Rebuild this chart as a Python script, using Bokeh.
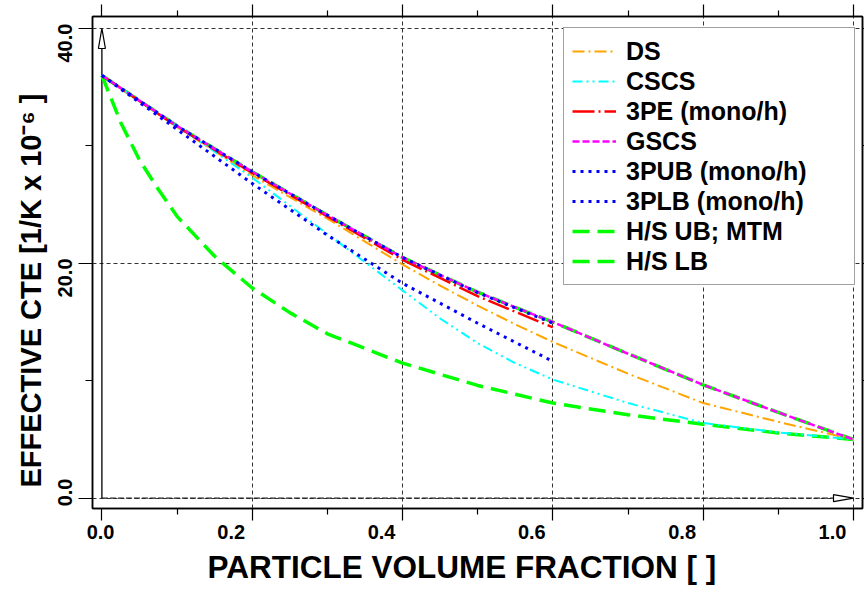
from bokeh.plotting import figure
from bokeh.models import (Range1d, FixedTicker, LinearAxis, Legend, LegendItem,
                          CustomJSTickFormatter, Grid, Title)
from bokeh.embed import file_html
from bokeh.resources import INLINE

# ---------------------------------------------------------------- data
# particle volume fraction grids
phi = [0.0, 0.1, 0.2, 0.3, 0.4, 0.45, 0.5, 0.55, 0.6, 0.7, 0.8, 0.9, 1.0]
phi_3p = [0.0, 0.1, 0.2, 0.3, 0.4, 0.5, 0.6]
phi_lb = [0.0, 0.025, 0.05, 0.075, 0.1, 0.15, 0.2, 0.25, 0.3, 0.4, 0.5,
          0.6, 0.7, 0.8, 0.9, 1.0]

# effective CTE [1/K x 10^-6]
cte_ds = [36.0, 31.6, 27.5, 23.8, 19.9, 18.1, 16.4, 14.8, 13.3, 10.6, 8.1, 6.5, 5.0]
cte_cscs = [36.0, 31.7, 27.3, 22.5, 17.7, 15.3, 13.2, 11.5, 10.1, 8.1, 6.4, 5.6, 5.0]
cte_3pe = [36.0, 31.65, 27.7, 24.0, 20.3, 17.2, 14.55]
cte_gscs = [36.0, 31.7, 27.8, 24.1, 20.5, 19.0, 17.55, 16.25, 15.0, 12.3, 9.65, 7.3, 5.0]
cte_3pub = [36.0, 31.7, 27.8, 24.1, 20.5, 17.5, 14.9]
cte_3plb = [36.0, 31.4, 26.8, 22.4, 18.3, 14.9, 11.65]
cte_hs_ub = [36.0, 31.7, 27.8, 24.1, 20.5, 19.0, 17.55, 16.25, 15.0, 12.3, 9.65, 7.3, 5.0]
cte_hs_lb = [36.0, 32.0, 28.8, 26.3, 24.0, 20.6, 17.9, 15.8, 14.0, 11.5,
             9.6, 8.1, 7.1, 6.3, 5.55, 5.0]

series_names = ["DS", "CSCS", "3PE (mono/h)", "GSCS", "3PUB (mono/h)",
                "3PLB (mono/h)", "H/S UB; MTM", "H/S LB"]

# axis ticks
x_ticks = [0.0, 0.2, 0.4, 0.6, 0.8, 1.0]
x_minor = [0.1, 0.3, 0.5, 0.7, 0.9]
x_tick_labels = ["0.0", "0.2", "0.4", "0.6", "0.8", "1.0"]
y_ticks = [0.0, 20.0, 40.0]
y_minor = [10.0, 30.0]
y_tick_labels = ["0.0", "20.0", "40.0"]

x_title = "PARTICLE VOLUME FRACTION [ ]"
y_title = "EFFECTIVE CTE [1/K x 10\u207b\u2076 ]"

# ---------------------------------------------------------------- layout
W, H = 864, 592
LEFT, RIGHT, TOP, BOTTOM = 92, 2, 16, 84
FW, FH = W - LEFT - RIGHT, H - TOP - BOTTOM
X0, X1 = -0.0125, 1.012
Y0, Y1 = -0.88, 41.02
FONT = "Liberation Sans"

DX = (X1 - X0) / FW   # data units per pixel
DY = (Y1 - Y0) / FH

# tick numbers sit a little off their ticks: 0.0 nearly centred,
# the others shifted towards the origin
X_LAB_SHIFT = 21.0    # px to the left
X_LAB_ZERO = 1.3
Y_LAB_SHIFT = 14.6    # px downwards
Y_LAB_ZERO = -5.7

p = figure(width=W, height=H, x_range=Range1d(X0, X1), y_range=Range1d(Y0, Y1),
           output_backend="svg", toolbar_location=None,
           min_border_left=LEFT, min_border_right=RIGHT,
           min_border_top=TOP, min_border_bottom=BOTTOM,
           x_axis_type=None, y_axis_type=None)
p.background_fill_color = "white"
p.border_fill_color = "white"
p.outline_line_color = "black"
p.outline_line_width = 1.5

# shifted ranges that carry only the tick numbers
p.extra_x_ranges = {"xlab": Range1d(X0 + X_LAB_SHIFT * DX, X1 + X_LAB_SHIFT * DX)}
p.extra_y_ranges = {"ylab": Range1d(Y0 + Y_LAB_SHIFT * DY, Y1 + Y_LAB_SHIFT * DY)}

blank = CustomJSTickFormatter(code="return ''")


def tick_axis(ticks, minor, out_major, out_minor):
    ax = LinearAxis(ticker=FixedTicker(ticks=ticks, minor_ticks=minor),
                    formatter=blank)
    ax.major_tick_out = out_major
    ax.major_tick_in = 0
    ax.minor_tick_out = out_minor
    ax.minor_tick_in = 0
    ax.major_tick_line_width = 1.2
    ax.minor_tick_line_width = 1.2
    ax.axis_line_width = 1.5
    ax.major_label_text_font_size = "0px"
    ax.major_label_standoff = 0
    ax.axis_label_standoff = 0
    return ax


def label_axis(ticks, labels, standoff, **kw):
    ax = LinearAxis(ticker=FixedTicker(ticks=ticks, minor_ticks=[]),
                    formatter=CustomJSTickFormatter(args=dict(labels=labels),
                                                    code="return labels[index]"),
                    **kw)
    ax.axis_line_color = None
    ax.major_tick_line_color = None
    ax.minor_tick_line_color = None
    ax.major_tick_out = 0
    ax.major_tick_in = 0
    ax.minor_tick_out = 0
    ax.minor_tick_in = 0
    ax.major_label_standoff = standoff
    ax.major_label_text_font = FONT
    ax.major_label_text_font_style = "bold"
    ax.major_label_text_font_size = "20px"
    ax.major_label_text_color = "black"
    return ax


# tick marks on all four sides
p.add_layout(tick_axis(x_ticks, x_minor, 12, 6), "below")
p.add_layout(tick_axis(x_ticks, x_minor, 12, 6), "above")
p.add_layout(tick_axis(y_ticks, y_minor, 14, 7), "left")
p.add_layout(tick_axis(y_ticks, y_minor, 2, 2), "right")

# tick numbers
x_lab_ticks = [x_ticks[0] + (X_LAB_SHIFT - X_LAB_ZERO) * DX] + x_ticks[1:]
p.add_layout(label_axis(x_lab_ticks, x_tick_labels, 4, x_range_name="xlab"), "below")
y_lab_ticks = [y_ticks[0] + (Y_LAB_SHIFT - Y_LAB_ZERO) * DY] + y_ticks[1:]
yl = label_axis(y_lab_ticks, y_tick_labels, 6, y_range_name="ylab")
yl.major_label_orientation = "vertical"
p.add_layout(yl, "left")

# axis titles
p.add_layout(Title(text=x_title, align="left", offset=115, standoff=11,
                   vertical_align="bottom", text_font=FONT, text_font_style="bold",
                   text_font_size="31.5px", text_color="black"), "below")
p.add_layout(Title(text=y_title, align="left", offset=21, standoff=18,
                   vertical_align="bottom", text_font=FONT, text_font_style="bold",
                   text_font_size="29px", text_color="black"), "left")

# dashed reference grid
gx = Grid(dimension=0, ticker=FixedTicker(ticks=x_ticks[1:]))
gy = Grid(dimension=1, ticker=FixedTicker(ticks=y_ticks))
for g in (gx, gy):
    g.grid_line_color = "#333333"
    g.grid_line_width = 1
    g.grid_line_dash = "4 3"
    p.add_layout(g)

# coordinate axes through the origin with open arrow heads
ah_len, ah_half = 20, 3.5
p.segment(x0=[x_ticks[0]], y0=[y_ticks[0]], x1=[x_ticks[0]],
          y1=[y_ticks[-1] - ah_len * DY], line_color="black", line_width=1.3)
p.segment(x0=[x_ticks[0]], y0=[y_ticks[0]], x1=[x_ticks[-1] - ah_len * DX],
          y1=[y_ticks[0]], line_color="#222222", line_width=1.3, line_dash="6 2")
p.patch(x=[x_ticks[0], x_ticks[0] - ah_half * DX, x_ticks[0] + ah_half * DX],
        y=[y_ticks[-1], y_ticks[-1] - ah_len * DY, y_ticks[-1] - ah_len * DY],
        fill_color="white", line_color="black", line_width=1.2)
p.patch(x=[x_ticks[-1], x_ticks[-1] - ah_len * DX, x_ticks[-1] - ah_len * DX],
        y=[y_ticks[0], y_ticks[0] + ah_half * DY, y_ticks[0] - ah_half * DY],
        fill_color="white", line_color="black", line_width=1.2)

# ---------------------------------------------------------------- curves
r_ub = p.line(phi, cte_hs_ub, line_color="#00FF00", line_width=3.5, line_dash="17 8")
r_lb = p.line(phi_lb, cte_hs_lb, line_color="#00FF00", line_width=3.5, line_dash="17 8")
r_ds = p.line(phi, cte_ds, line_color="#FFA500", line_width=2, line_dash="12 4 2 4")
r_cscs = p.line(phi, cte_cscs, line_color="#00FFFF", line_width=2,
                line_dash="10 4 2 4 2 4")
r_3pe = p.line(phi_3p, cte_3pe, line_color="#FF0000", line_width=2.5,
               line_dash="22 4 2 4")
r_gscs = p.line(phi, cte_gscs, line_color="#FF00FF", line_width=2.5, line_dash="7 3")
r_3pub = p.line(phi_3p, cte_3pub, line_color="#0000FF", line_width=3, line_dash="3 5")
r_3plb = p.line(phi_3p, cte_3plb, line_color="#0000FF", line_width=3, line_dash="3 5")

renderers = [r_ds, r_cscs, r_3pe, r_gscs, r_3pub, r_3plb, r_ub, r_lb]
legend = Legend(items=[LegendItem(label=n, renderers=[r])
                       for n, r in zip(series_names, renderers)],
                location=(471, 223))
legend.label_text_font = FONT
legend.label_text_font_style = "bold"
legend.label_text_font_size = "25px"
legend.label_text_color = "black"
legend.glyph_width = 44
legend.glyph_height = 30
legend.label_height = 30
legend.label_width = 220
legend.label_standoff = 10
legend.spacing = 0
legend.padding = 8
legend.margin = 0
legend.border_line_color = "#444444"
legend.border_line_width = 1.5
legend.background_fill_color = "white"
legend.background_fill_alpha = 1.0
p.add_layout(legend)

open("out.html", "w").write(file_html(p, INLINE))
